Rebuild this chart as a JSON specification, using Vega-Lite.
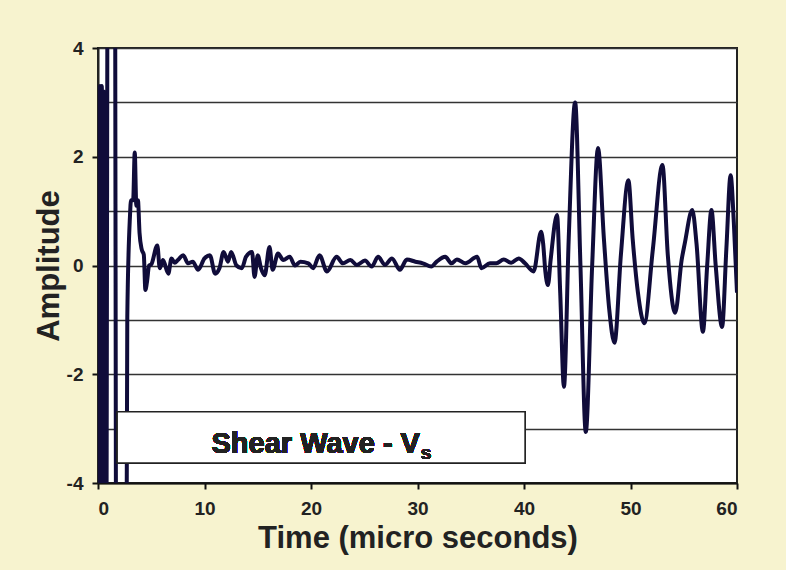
{
  "$schema": "https://vega.github.io/schema/vega-lite/v6.json",
  "width": 639,
  "height": 435,
  "autosize": {"type": "none"},
  "padding": {"left": 98, "top": 48, "right": 49, "bottom": 87},
  "background": "#f7f3cf",
  "config": {
    "view": {"fill": "white", "stroke": "#222222", "strokeWidth": 2},
    "font": "Liberation Sans"
  },
  "data": {
    "values": [
      {"t": 0, "a": 0.1}, {"t": 0.08, "a": -10}, {"t": 0.18, "a": 3.3}, {"t": 0.28, "a": -10},
      {"t": 0.36, "a": 3.3}, {"t": 0.45, "a": -10}, {"t": 0.55, "a": 3.2}, {"t": 0.7, "a": -10},
      {"t": 1.2, "a": 40}, {"t": 2.1, "a": -40},
      {"t": 2.75, "a": -0.95}, {"t": 3.0, "a": 0.9}, {"t": 3.1, "a": 1.2}, {"t": 3.3, "a": 1.2},
      {"t": 3.45, "a": 2.08}, {"t": 3.6, "a": 1.1}, {"t": 3.75, "a": 1.2}, {"t": 3.9, "a": 0.6},
      {"t": 4.1, "a": 0.3}, {"t": 4.3, "a": 0.2}, {"t": 4.45, "a": -0.45}, {"t": 4.6, "a": -0.3},
      {"t": 4.8, "a": 0.0}, {"t": 5.0, "a": 0.02}, {"t": 5.57, "a": 0.37}, {"t": 5.8, "a": -0.05},
      {"t": 6.1, "a": 0.1}, {"t": 6.6, "a": -0.15}, {"t": 6.9, "a": 0.13}, {"t": 7.2, "a": 0.05},
      {"t": 7.5, "a": 0.1}, {"t": 8.0, "a": 0.19}, {"t": 8.45, "a": 0.04}, {"t": 8.9, "a": 0.07},
      {"t": 9.4, "a": -0.08}, {"t": 10.0, "a": 0.13}, {"t": 10.5, "a": 0.19}, {"t": 11.0, "a": -0.15},
      {"t": 11.4, "a": -0.05}, {"t": 11.8, "a": 0.25}, {"t": 12.2, "a": 0.07}, {"t": 12.5, "a": 0.25},
      {"t": 13.0, "a": 0.0}, {"t": 13.5, "a": -0.05}, {"t": 13.9, "a": 0.16}, {"t": 14.46, "a": 0.25},
      {"t": 14.7, "a": -0.21}, {"t": 15.0, "a": 0.19}, {"t": 15.3, "a": -0.05}, {"t": 15.65, "a": -0.18},
      {"t": 16.1, "a": 0.34}, {"t": 16.4, "a": -0.08}, {"t": 16.9, "a": 0.22}, {"t": 17.4, "a": 0.1},
      {"t": 18.0, "a": 0.16}, {"t": 18.5, "a": 0.0}, {"t": 19.0, "a": 0.07}, {"t": 19.75, "a": 0.04},
      {"t": 20.2, "a": -0.05}, {"t": 20.8, "a": 0.19}, {"t": 21.5, "a": -0.11}, {"t": 22.4, "a": 0.16},
      {"t": 23.0, "a": 0.04}, {"t": 23.7, "a": 0.1}, {"t": 24.3, "a": 0.01}, {"t": 25.07, "a": 0.09},
      {"t": 25.7, "a": -0.02}, {"t": 26.3, "a": 0.16}, {"t": 26.95, "a": 0.01}, {"t": 27.6, "a": 0.13},
      {"t": 28.35, "a": -0.08}, {"t": 29.0, "a": 0.11}, {"t": 29.8, "a": 0.07}, {"t": 30.5, "a": 0.04},
      {"t": 31.3, "a": -0.02}, {"t": 31.8, "a": 0.07}, {"t": 32.6, "a": 0.16}, {"t": 33.2, "a": 0.04},
      {"t": 33.7, "a": 0.11}, {"t": 34.5, "a": 0.04}, {"t": 35.6, "a": 0.16}, {"t": 36.0, "a": -0.05},
      {"t": 36.8, "a": 0.04}, {"t": 37.4, "a": 0.04}, {"t": 38.1, "a": 0.11}, {"t": 38.8, "a": 0.05},
      {"t": 39.5, "a": 0.13}, {"t": 40.1, "a": 0.04}, {"t": 40.9, "a": -0.11}, {"t": 41.6, "a": 0.62},
      {"t": 41.8, "a": 0.4}, {"t": 42.0, "a": -0.1}, {"t": 42.25, "a": -0.36}, {"t": 42.5, "a": 0.1},
      {"t": 43.1, "a": 0.93}, {"t": 43.4, "a": -0.5}, {"t": 43.75, "a": -2.23}, {"t": 44.2, "a": 0.5},
      {"t": 44.8, "a": 3.0}, {"t": 45.3, "a": 0.0}, {"t": 45.8, "a": -3.06}, {"t": 46.4, "a": 0.0},
      {"t": 46.95, "a": 2.16}, {"t": 47.5, "a": 0.5}, {"t": 48.0, "a": -0.8}, {"t": 48.5, "a": -1.42},
      {"t": 49.1, "a": 0.2}, {"t": 49.8, "a": 1.57}, {"t": 50.2, "a": 0.5}, {"t": 50.7, "a": -0.5},
      {"t": 51.3, "a": -1.06}, {"t": 52.1, "a": 0.3}, {"t": 53.0, "a": 1.85}, {"t": 53.5, "a": 0.2},
      {"t": 54.2, "a": -0.87}, {"t": 54.8, "a": 0.1}, {"t": 55.1, "a": 0.41}, {"t": 55.8, "a": 1.02},
      {"t": 56.2, "a": 0.4}, {"t": 56.8, "a": -1.22}, {"t": 57.2, "a": 0.0}, {"t": 57.6, "a": 1.02},
      {"t": 58.0, "a": 0.0}, {"t": 58.6, "a": -1.13}, {"t": 59.0, "a": 0.3}, {"t": 59.4, "a": 1.66},
      {"t": 59.7, "a": 0.8}, {"t": 60.0, "a": -0.5}
    ]
  },
  "layer": [
    {
      "mark": {"type": "line", "clip": true, "color": "#100c3a", "strokeWidth": 4, "interpolate": "monotone"},
      "encoding": {
        "x": {
          "field": "t", "type": "quantitative",
          "scale": {"domain": [0, 60], "nice": false},
          "axis": {
            "values": [0, 10, 20, 30, 40, 50, 60],
            "grid": false,
            "domainColor": "#111111", "domainWidth": 2,
            "tickColor": "#111111", "tickWidth": 2, "tickSize": 6,
            "labelFont": "Liberation Sans", "labelFontWeight": "bold", "labelFontSize": 19,
            "labelColor": "#222222", "labelPadding": 10,
            "title": "Time (micro seconds)",
            "titleFont": "Liberation Sans", "titleFontWeight": "bold", "titleFontSize": 31,
            "titleColor": "#222222", "titlePadding": 5
          }
        },
        "y": {
          "field": "a", "type": "quantitative",
          "scale": {"domain": [-4, 4], "nice": false},
          "axis": {
            "values": [-4, -3, -2, -1, 0, 1, 2, 3, 4],
            "labelExpr": "datum.value % 2 == 0 ? toString(datum.value) : ''",
            "grid": true, "gridColor": "#333333", "gridWidth": 1.5, "gridOpacity": 1,
            "domainColor": "#222222", "domainWidth": 2,
            "tickColor": "#111111", "tickWidth": 2, "tickSize": 6,
            "tickOpacity": {"condition": {"test": "datum.value % 2 != 0", "value": 0}, "value": 1},
            "labelFont": "Liberation Sans", "labelFontWeight": "bold", "labelFontSize": 19,
            "labelColor": "#222222", "labelPadding": 9,
            "title": "Amplitude",
            "titleFont": "Liberation Sans", "titleFontWeight": "bold", "titleFontSize": 31,
            "titleColor": "#222222", "titlePadding": 1
          }
        }
      }
    },
    {
      "mark": {"type": "rect", "fill": "white", "stroke": "#222222", "strokeWidth": 1.5},
      "encoding": {
        "x": {"datum": 1.8, "type": "quantitative"},
        "x2": {"datum": 40.1},
        "y": {"datum": -2.69, "type": "quantitative"},
        "y2": {"datum": -3.63}
      }
    },
    {
      "mark": {"type": "text", "text": "Shear Wave - V", "align": "right", "baseline": "alphabetic", "font": "Liberation Sans", "fontWeight": "bold", "fontSize": 29, "fill": "#222222"},
      "encoding": {
        "x": {"datum": 30.23, "type": "quantitative"},
        "y": {"datum": -3.45, "type": "quantitative"}
      }
    },
    {
      "mark": {"type": "text", "text": "s", "align": "left", "baseline": "alphabetic", "font": "Liberation Sans", "fontWeight": "bold", "fontSize": 19, "fill": "#222222"},
      "encoding": {
        "x": {"datum": 30.3, "type": "quantitative"},
        "y": {"datum": -3.55, "type": "quantitative"}
      }
    }
  ]
}
